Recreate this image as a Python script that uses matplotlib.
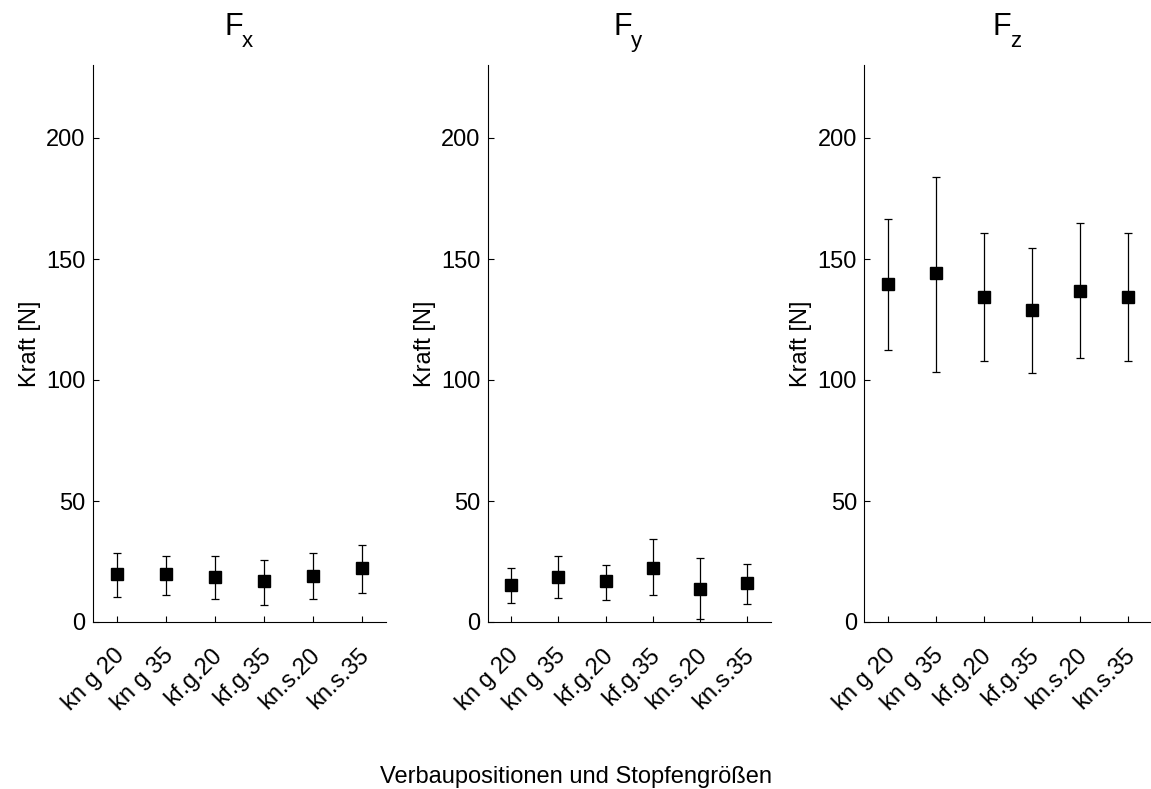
import matplotlib
matplotlib.use('Agg')
import matplotlib.pyplot as plt
import matplotlib.transforms as mtransforms

plt.rcParams['font.family'] = ['Liberation Sans', 'DejaVu Sans']

categories = ['kn g 20', 'kn g 35', 'kf.g.20', 'kf.g.35', 'kn.s.20', 'kn.s.35']
components = ['x', 'y', 'z']

fx_mean = [19.7, 19.7, 18.5, 16.9, 19.1, 22.4]
fx_upper = [28.4, 27.4, 27.4, 25.7, 28.4, 31.9]
fx_lower = [10.5, 11.0, 9.4, 7.2, 9.4, 12.1]

fy_mean = [15.3, 18.5, 16.8, 22.4, 13.5, 16.0]
fy_upper = [22.4, 27.4, 23.4, 34.3, 26.4, 24.0]
fy_lower = [7.7, 9.9, 9.2, 11.2, 1.1, 7.3]

fz_mean = [139.5, 144.1, 134.4, 128.9, 136.8, 134.4]
fz_upper = [166.5, 183.9, 160.9, 154.7, 164.8, 160.9]
fz_lower = [112.4, 103.4, 107.9, 102.8, 109.1, 107.9]

series = [(fx_mean, fx_upper, fx_lower),
          (fy_mean, fy_upper, fy_lower),
          (fz_mean, fz_upper, fz_lower)]

W, H = 1151, 789
fig = plt.figure(figsize=(W / 100, H / 100), dpi=100)

# axes boxes in pixels: left, right (x=0.5 .. 6.5), top, bottom
boxes = [(92.5, 386.5), (487.5, 771), (864, 1152)]
top_px, bot_px = 65.4, 622

# shift for the rotated tick labels (pixels)
lbl_shift = mtransforms.ScaledTranslation(-4 / 100, -14 / 100, fig.dpi_scale_trans)

for i, (ax_box, (mean, up, lo), comp) in enumerate(zip(boxes, series, components)):
    l, r = ax_box
    ax = fig.add_axes([l / W, 1 - bot_px / H, (r - l) / W, (bot_px - top_px) / H])
    xs = list(range(1, len(categories) + 1))
    err = [[m - b for m, b in zip(mean, lo)], [u - m for m, u in zip(mean, up)]]
    ax.errorbar(xs, mean, yerr=err, fmt='s', color='black', ms=8.4,
                elinewidth=0.9, capsize=3, capthick=0.9, ecolor='black')
    ax.set_xlim(0.5, 6.5)
    ax.set_ylim(0, 230)
    ax.set_yticks([0, 50, 100, 150, 200])
    ax.set_xticks(xs)
    ax.set_xticklabels(categories, rotation=45, ha='right', rotation_mode='anchor')
    ax.tick_params(direction='in', length=4, width=0.8, labelsize=17)
    ax.tick_params(axis='y', pad=5)
    ax.tick_params(axis='x', pad=6)
    for lab in ax.get_xticklabels():
        lab.set_transform(lab.get_transform() + lbl_shift)
    for s in ['top', 'right']:
        ax.spines[s].set_visible(False)
    for s in ['left', 'bottom']:
        ax.spines[s].set_linewidth(0.8)
    ax.set_ylabel('Kraft [N]', fontsize=17, labelpad=4)

    # title F with a low subscript
    cx = (l + r) / 2 / W
    tr = mtransforms.offset_copy(fig.transFigure, fig=fig, x=-6, y=0, units='dots')
    fig.text(cx, 1 - 35 / H, 'F', fontsize=22, ha='center', va='baseline', transform=tr)
    tr2 = mtransforms.offset_copy(fig.transFigure, fig=fig, x=2, y=0, units='dots')
    fig.text(cx, 1 - 47 / H, comp, fontsize=16, ha='left', va='baseline', transform=tr2)

fig.text(576 / W, 1 - 783 / H, 'Verbaupositionen und Stopfengrößen',
         fontsize=17, ha='center', va='baseline')

fig.savefig('out.png', dpi=100)
